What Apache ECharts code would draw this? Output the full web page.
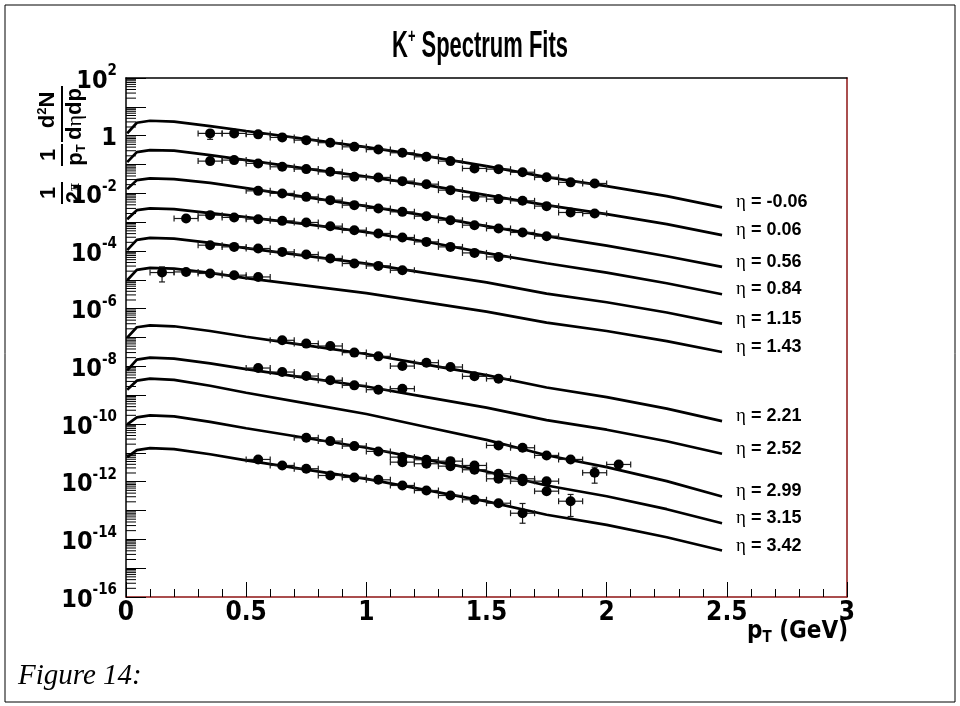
<!DOCTYPE html>
<html>
<head>
<meta charset="utf-8">
<script src="https://cdn.jsdelivr.net/npm/echarts@6/dist/echarts.min.js"></script>
<style>
  html, body { margin: 0; padding: 0; background: #fff; }
  #chart { width: 960px; height: 706px; }
</style>
</head>
<body>
<div id="chart"></div>
<script>
// K+ invariant spectra, one fit curve per pseudorapidity bin (offset vertically)
const etaLabels = ['-0.06', '0.06', '0.56', '0.84', '1.15', '1.43', '2.21', '2.52', '2.99', '3.15', '3.42'];

// pT points (GeV) at which the fit curves are sampled
const fitPt = [0.005, 0.045, 0.1, 0.2, 0.35, 0.5, 0.75, 1.0, 1.25, 1.5, 1.75, 2.0, 2.25, 2.48];

const fitM006 = [1.20, 2.81, 3.29, 3.09, 2.15, 1.45, 0.762, 0.402, 0.196, 0.0879, 0.0365, 0.0178, 0.0080, 0.00324];
const fit006  = [0.121, 0.270, 0.316, 0.304, 0.212, 0.142, 0.0721, 0.0380, 0.0193, 0.00865, 0.00389, 0.00190, 8.53e-4, 3.54e-4];
const fit056  = [0.0140, 0.0287, 0.0329, 0.0311, 0.0232, 0.0152, 0.00738, 0.00360, 0.00168, 7.26e-4, 3.27e-4, 1.53e-4, 6.59e-5, 2.81e-5];
const fit084  = [0.00127, 0.00261, 0.00299, 0.00282, 0.00205, 0.00149, 8.53e-4, 4.50e-4, 2.10e-4, 8.39e-5, 3.77e-5, 1.77e-5, 7.62e-6, 3.16e-6];
const fit115  = [1.07e-4, 2.43e-4, 2.85e-4, 2.67e-4, 1.90e-4, 1.25e-4, 6.76e-5, 3.65e-5, 1.72e-5, 8.13e-6, 3.34e-6, 1.67e-6, 7.38e-7, 3.04e-7];
const fit143  = [9.68e-6, 2.21e-5, 2.59e-5, 2.43e-5, 1.74e-5, 1.15e-5, 6.34e-6, 3.45e-6, 1.66e-6, 7.87e-7, 3.29e-7, 1.68e-7, 7.50e-8, 3.14e-8];
const fit221  = [9.93e-8, 2.26e-7, 2.65e-7, 2.45e-7, 1.68e-7, 1.06e-7, 5.32e-8, 2.67e-8, 1.15e-8, 4.94e-9, 1.84e-9, 8.53e-10, 3.40e-10, 1.26e-10];
const fit252  = [7.26e-9, 1.71e-8, 2.00e-8, 1.85e-8, 1.27e-8, 8.0e-9, 3.99e-9, 2.0e-9, 8.59e-10, 3.71e-10, 1.36e-10, 6.34e-11, 2.53e-11, 9.31e-12];
const fit299  = [1.55e-9, 3.18e-9, 3.74e-9, 3.40e-9, 2.12e-9, 1.21e-9, 5.19e-10, 2.22e-10, 7.87e-11, 2.81e-11, 8.26e-12, 3.21e-12, 1.04e-12, 3.06e-13];
const fit315  = [9.68e-11, 1.69e-10, 1.99e-10, 1.84e-10, 1.18e-10, 7.10e-11, 3.27e-11, 1.50e-11, 5.81e-12, 2.26e-12, 7.38e-13, 3.11e-13, 1.11e-13, 3.62e-14];
const fit342  = [7.10e-12, 1.24e-11, 1.46e-11, 1.34e-11, 8.93e-12, 5.45e-12, 2.61e-12, 1.25e-12, 5.11e-13, 2.07e-13, 7.14e-14, 3.16e-14, 1.18e-14, 4.08e-15];

// measured points: [pT, value] or [pT, value, errLow, errHigh]
const ptM006 = [[0.35, 1.20, 0.745, 1.48], [0.45, 1.20], [0.55, 1.11], [0.65, 0.87], [0.75, 0.70], [0.85, 0.57], [0.95, 0.41], [1.05, 0.33], [1.15, 0.255], [1.25, 0.185], [1.35, 0.131], [1.45, 0.073], [1.55, 0.069], [1.65, 0.054], [1.75, 0.036], [1.85, 0.024], [1.95, 0.022]];
const pt006 = [[0.35, 0.131], [0.45, 0.142], [0.55, 0.109], [0.65, 0.0832], [0.75, 0.0692], [0.85, 0.0558], [0.95, 0.0374], [1.05, 0.0356], [1.15, 0.0265], [1.25, 0.0208], [1.35, 0.0129], [1.45, 0.00755], [1.55, 0.00630], [1.65, 0.00550], [1.75, 0.00360], [1.85, 0.00217], [1.95, 0.00200]];
const pt056 = [[0.55, 0.0122], [0.65, 0.00993], [0.75, 0.00755], [0.85, 0.00581], [0.95, 0.00389], [1.05, 0.00299], [1.15, 0.00228], [1.25, 0.00161], [1.35, 0.00117], [1.45, 7.87e-4], [1.55, 6.04e-4], [1.65, 4.39e-4], [1.75, 3.27e-4]];
const pt084 = [[0.25, 0.00134], [0.35, 0.00175], [0.45, 0.00146], [0.55, 0.00127], [0.65, 0.00111], [0.75, 9.77e-4], [0.85, 7.26e-4], [0.95, 5.27e-4], [1.05, 4.06e-4], [1.15, 2.94e-4], [1.25, 2.07e-4], [1.35, 1.39e-4], [1.45, 8.59e-5], [1.55, 6.24e-5]];
const pt115 = [[0.35, 1.59e-4], [0.45, 1.39e-4], [0.55, 1.22e-4], [0.65, 9.31e-5], [0.75, 7.55e-5], [0.85, 5.50e-5], [0.95, 3.68e-5], [1.05, 3.04e-5], [1.15, 2.15e-5]];
const pt143 = [[0.15, 1.79e-5, 8.45e-6, 2.81e-5], [0.25, 1.88e-5], [0.35, 1.66e-5], [0.45, 1.45e-5], [0.55, 1.26e-5]];
const pt221 = [[0.65, 8.0e-8], [0.75, 6.14e-8], [0.85, 5.07e-8], [0.95, 2.99e-8], [1.05, 2.22e-8], [1.15, 1.02e-8], [1.25, 1.34e-8], [1.35, 9.46e-9], [1.45, 4.50e-9], [1.55, 3.74e-9]];
const pt252 = [[0.55, 8.73e-9], [0.65, 6.34e-9], [0.75, 4.60e-9], [0.85, 3.27e-9], [0.95, 2.19e-9], [1.05, 1.55e-9], [1.15, 1.68e-9]];
const pt299 = [[1.55, 1.81e-11], [1.65, 1.50e-11], [1.75, 8.13e-12], [1.85, 5.90e-12], [1.95, 2.04e-12, 8.87e-13, 3.18e-12], [2.05, 3.95e-12]];
const pt315a = [[0.75, 3.34e-11], [0.85, 2.55e-11], [0.95, 1.71e-11], [1.05, 1.12e-11], [1.15, 7.10e-12], [1.25, 5.75e-12], [1.35, 5.15e-12], [1.45, 3.65e-12], [1.55, 1.88e-12], [1.65, 1.26e-12], [1.75, 1.04e-12]];
const pt315b = [[1.15, 4.75e-12], [1.25, 4.19e-12], [1.35, 3.45e-12], [1.45, 2.59e-12], [1.55, 1.26e-12], [1.65, 1.04e-12], [1.75, 4.68e-13], [1.85, 2.10e-13, 6.19e-14, 3.60e-13]];
const pt342 = [[0.55, 5.90e-12], [0.65, 3.65e-12], [0.75, 2.81e-12], [0.85, 1.64e-12], [0.95, 1.40e-12], [1.05, 1.16e-12], [1.15, 7.38e-13], [1.25, 4.94e-13], [1.35, 3.32e-13], [1.45, 2.36e-13], [1.55, 1.79e-13], [1.65, 8.05e-14, 3.62e-14, 1.75e-13]];

const xTickLabels = ['0', '0.5', '1', '1.5', '2', '2.5', '3'];
// y-axis decade exponents: ticks on each, labels on every second one
const yTickExponents = [-16, -15, -14, -13, -12, -11, -10, -9, -8, -7, -6, -5, -4, -3, -2, -1, 0, 1, 2];
const yLabelExponents = [-16, -14, -12, -10, -8, -6, -4, -2, 0, 2];
const binHalfWidth = 0.05;

const fits = [fitM006, fit006, fit056, fit084, fit115, fit143, fit221, fit252, fit299, fit315, fit342];
const pointSets = [ptM006, pt006, pt056, pt084, pt115, pt143, pt221, pt252, pt299, pt315a, pt315b, pt342];

// log-axis minor ticks at 2..9 x 10^n
const minorTickVals = [];
for (let e = -16; e < 2; e++) {
  for (let m = 2; m <= 9; m++) minorTickVals.push([0, m * Math.pow(10, e)]);
}

const SANS = "'Liberation Sans', Arial, Helvetica, sans-serif";
const NARROW = "'Liberation Sans Narrow', 'Arial Narrow', 'DejaVu Sans Condensed', 'Liberation Sans', sans-serif";
const SERIF = "'Liberation Serif', 'Times New Roman', serif";
const FRAME_RED = '#8e1414';

const chart = echarts.init(document.getElementById('chart'), null, { renderer: 'canvas' });

const series = [];

fits.forEach((vals, i) => {
  series.push({
    type: 'line',
    name: etaLabels[i],
    xAxisIndex: 0,
    yAxisIndex: 0,
    data: fitPt.map((x, k) => [x, vals[k]]),
    showSymbol: false,
    symbol: 'none',
    silent: true,
    lineStyle: { color: '#000', width: 2.7 },
    z: 3,
    endLabel: {
      show: true,
      distance: 14,
      offset: [0, -5],
      formatter: () => '{g|η}{t| = ' + etaLabels[i] + '}',
      rich: {
        g: { fontFamily: SERIF, fontSize: 19, fontWeight: 'normal', color: '#000' },
        t: { fontFamily: SANS, fontSize: 18, fontWeight: 'bold', color: '#000' }
      }
    }
  });
});

// error bars: horizontal bin width with end caps, vertical where given
const errData = [];
pointSets.forEach(set => set.forEach(p => {
  errData.push([p[0], p[1], p.length > 2 ? p[2] : p[1], p.length > 3 ? p[3] : p[1]]);
}));

series.push({
  type: 'custom',
  xAxisIndex: 0,
  yAxisIndex: 0,
  silent: true,
  clip: false,
  z: 4,
  encode: { x: 0, y: 1 },
  data: errData,
  renderItem: (params, api) => {
    const x = api.value(0), y = api.value(1), lo = api.value(2), hi = api.value(3);
    const l = api.coord([x - binHalfWidth, y]);
    const r = api.coord([x + binHalfWidth, y]);
    const st = { stroke: '#1a1a1a', lineWidth: 1.2 };
    const children = [
      { type: 'line', shape: { x1: l[0], y1: l[1], x2: r[0], y2: r[1] }, style: st },
      { type: 'line', shape: { x1: l[0], y1: l[1] - 3, x2: l[0], y2: l[1] + 3 }, style: st },
      { type: 'line', shape: { x1: r[0], y1: r[1] - 3, x2: r[0], y2: r[1] + 3 }, style: st }
    ];
    if (lo !== hi) {
      const a = api.coord([x, lo]);
      const b = api.coord([x, hi]);
      children.push({ type: 'line', shape: { x1: a[0], y1: a[1], x2: b[0], y2: b[1] }, style: st });
      children.push({ type: 'line', shape: { x1: a[0] - 3, y1: a[1], x2: a[0] + 3, y2: a[1] }, style: st });
      children.push({ type: 'line', shape: { x1: b[0] - 3, y1: b[1], x2: b[0] + 3, y2: b[1] }, style: st });
    }
    return { type: 'group', children };
  }
});

pointSets.forEach(set => {
  series.push({
    type: 'scatter',
    xAxisIndex: 0,
    yAxisIndex: 0,
    silent: true,
    symbol: 'circle',
    symbolSize: 10,
    itemStyle: { color: '#000', opacity: 1 },
    z: 5,
    data: set.map(p => [p[0], p[1]])
  });
});

// minor ticks along the log axis
series.push({
  type: 'custom',
  xAxisIndex: 0,
  yAxisIndex: 0,
  silent: true,
  clip: false,
  z: 6,
  encode: { x: 0, y: 1 },
  data: minorTickVals,
  renderItem: (params, api) => {
    const p = api.coord([0, api.value(1)]);
    return {
      type: 'line',
      shape: { x1: p[0], y1: p[1], x2: p[0] + 10, y2: p[1] },
      style: { stroke: '#000', lineWidth: 1 }
    };
  }
});

const option = {
  animation: false,
  backgroundColor: '#fff',
  grid: {
    left: 126, right: 113, top: 78, bottom: 109,
    containLabel: false,
    outerBoundsMode: 'none'
  },
  xAxis: [
    {
      type: 'value', position: 'bottom', min: 0, max: 3, interval: 0.5,
      axisLine: { show: true, onZero: false, lineStyle: { color: FRAME_RED, width: 1.5 } },
      axisTick: { show: true, inside: true, length: 15, lineStyle: { color: '#000' } },
      minorTick: { show: true, splitNumber: 5, length: 8, lineStyle: { color: '#000' } },
      splitLine: { show: false },
      minorSplitLine: { show: false },
      axisLabel: {
        margin: 3, color: '#000', fontFamily: NARROW, fontWeight: 'bold', fontSize: 26,
        formatter: v => xTickLabels[Math.round(v / 0.5)]
      }
    },
    {
      type: 'value', position: 'top', min: 0, max: 3,
      axisLine: { show: true, onZero: false, lineStyle: { color: '#000', width: 1.5 } },
      axisTick: { show: false }, axisLabel: { show: false }, splitLine: { show: false }
    }
  ],
  yAxis: [
    {
      type: 'log', logBase: 10, min: 1e-16, max: 100,
      position: 'left',
      axisLine: { show: true, onZero: false, lineStyle: { color: '#000', width: 1.5 } },
      axisTick: {
        show: true, inside: true, length: 20, lineStyle: { color: '#000' },
        customValues: yTickExponents.map(e => Math.pow(10, e))
      },
      splitLine: { show: false },
      axisLabel: {
        margin: 9, color: '#000',
        customValues: yLabelExponents.map(e => Math.pow(10, e)),
        formatter: v => {
          const e = Math.round(Math.log10(v));
          if (e === 0) return '{b|1}';
          return '{b|10}{e|' + e + '}';
        },
        rich: {
          b: { fontFamily: NARROW, fontSize: 25, fontWeight: 'bold', color: '#000', lineHeight: 28, padding: [6, 0, 0, 0] },
          e: { fontFamily: NARROW, fontSize: 15, fontWeight: 'bold', color: '#000', verticalAlign: 'top', lineHeight: 14 }
        }
      }
    },
    {
      type: 'value', position: 'right', min: 0, max: 1,
      axisLine: { show: true, onZero: false, lineStyle: { color: FRAME_RED, width: 1.5 } },
      axisTick: { show: false }, axisLabel: { show: false }, splitLine: { show: false }
    }
  ],
  graphic: [
    {
      type: 'rect', silent: true, z: 0,
      shape: { x: 5, y: 5, width: 950, height: 697 },
      style: { fill: 'none', stroke: '#000', lineWidth: 1 }
    },
    {
      // chart title, set in a condensed bold face
      type: 'text', silent: true,
      x: 480, y: 47, scaleX: 0.61,
      style: {
        text: '{k|K}{p|+}{k| Spectrum Fits}',
        align: 'center', verticalAlign: 'middle',
        rich: {
          k: { fontFamily: SANS, fontSize: 36, fontWeight: 'bold', fill: '#000', lineHeight: 40 },
          p: { fontFamily: SANS, fontSize: 21, fontWeight: 'bold', fill: '#000', verticalAlign: 'top', lineHeight: 20 }
        }
      }
    },
    {
      type: 'text', silent: true,
      x: 848, y: 618,
      style: {
        text: '{p|p}{s|T}{p| (GeV)}',
        align: 'right', verticalAlign: 'top',
        rich: {
          p: { fontFamily: NARROW, fontSize: 24, fontWeight: 'bold', fill: '#000', lineHeight: 28 },
          s: { fontFamily: NARROW, fontSize: 15, fontWeight: 'bold', fill: '#000', verticalAlign: 'bottom', lineHeight: 12 }
        }
      }
    },
    {
      type: 'text', silent: true,
      x: 18, y: 662,
      style: { text: 'Figure 14:', font: 'italic 29px ' + SERIF, fill: '#000' }
    },
    {
      // y-axis title: 1/(2π) · 1/pT · d²N/(dη dp), read bottom to top
      type: 'group', silent: true,
      x: 62, y: 210, rotation: Math.PI / 2,
      children: [
        { type: 'line', shape: { x1: 6, y1: 0, x2: 28, y2: 0 }, style: { stroke: '#000', lineWidth: 2 } },
        { type: 'text', x: 17, y: -2, style: { text: '1', font: 'bold 22px ' + SANS, fill: '#000', align: 'center', verticalAlign: 'bottom' } },
        { type: 'text', x: 17, y: 2, style: {
          text: '{a|2}{g|π}', align: 'center', verticalAlign: 'top',
          rich: { a: { fontFamily: SANS, fontSize: 22, fontWeight: 'bold', fill: '#000' }, g: { fontFamily: SERIF, fontSize: 16, fill: '#000' } }
        } },
        { type: 'line', shape: { x1: 44, y1: 0, x2: 66, y2: 0 }, style: { stroke: '#000', lineWidth: 2 } },
        { type: 'text', x: 55, y: -2, style: { text: '1', font: 'bold 22px ' + SANS, fill: '#000', align: 'center', verticalAlign: 'bottom' } },
        { type: 'text', x: 55, y: 2, style: {
          text: '{a|p}{s|T}', align: 'center', verticalAlign: 'top',
          rich: { a: { fontFamily: SANS, fontSize: 22, fontWeight: 'bold', fill: '#000', lineHeight: 24 }, s: { fontFamily: SANS, fontSize: 13, fontWeight: 'bold', fill: '#000', verticalAlign: 'bottom', lineHeight: 12 } }
        } },
        { type: 'line', shape: { x1: 68, y1: 0, x2: 124, y2: 0 }, style: { stroke: '#000', lineWidth: 2 } },
        { type: 'text', x: 100, y: -2, style: {
          text: '{a|d}{s|2}{a|N}', align: 'center', verticalAlign: 'bottom',
          rich: { a: { fontFamily: SANS, fontSize: 22, fontWeight: 'bold', fill: '#000', lineHeight: 24 }, s: { fontFamily: SANS, fontSize: 13, fontWeight: 'bold', fill: '#000', verticalAlign: 'top', lineHeight: 12 } }
        } },
        { type: 'text', x: 96, y: 2, style: {
          text: '{a|d}{g|η}{a|dp}', align: 'center', verticalAlign: 'top',
          rich: { a: { fontFamily: SANS, fontSize: 22, fontWeight: 'bold', fill: '#000' }, g: { fontFamily: SERIF, fontSize: 22, fill: '#000' } }
        } }
      ]
    }
  ],
  series
};

chart.setOption(option);
</script>
</body>
</html>
